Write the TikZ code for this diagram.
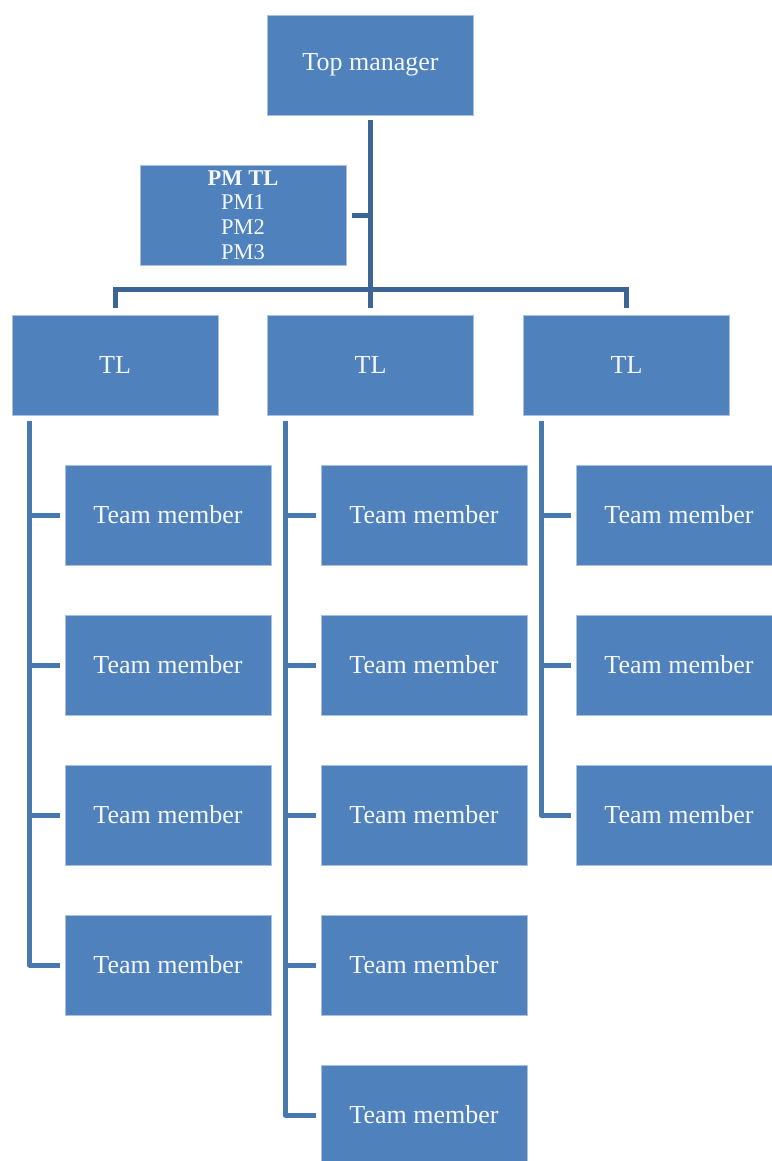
\documentclass[tikz,border=0pt]{standalone}
\usepackage{fontspec}
\setmainfont{Liberation Serif}
\definecolor{boxblue}{HTML}{4F81BD}
\definecolor{boxedge}{HTML}{A9C1DF}
\definecolor{topline}{HTML}{3C6595}
\definecolor{subline}{HTML}{4878B0}
\definecolor{txt}{HTML}{F4F7FB}
\begin{document}
\begin{tikzpicture}[x=1pt,y=1pt,
  orgbox/.style={rectangle, fill=boxblue, draw=boxedge, line width=0.8pt,
    minimum width=206pt, minimum height=100pt, inner sep=0pt, text=txt,
    font=\fontsize{26}{26}\selectfont},
  pmbox/.style={orgbox, align=center, font=\fontsize{22.5}{24.8}\selectfont},
  topconn/.style={draw=topline, line width=5pt},
  subconn/.style={draw=subline, line width=5pt, line join=round}]
\useasboundingbox (0,0) rectangle (771,-1161);
% nodes
\node[orgbox] (top) at (370.5,-65) {Top manager};
\node[pmbox] (pm) at (243,-215) {\textbf{PM TL}\\PM1\\PM2\\PM3};
\node[orgbox] (tl1) at (115,-365) {TL};
\node[orgbox] (tl2) at (370.5,-365) {TL};
\node[orgbox] (tl3) at (626.5,-365) {TL};
\foreach \r/\y in {1/-515,2/-665,3/-815,4/-965}
  \node[orgbox] (ma\r) at (168,\y) {Team member};
\foreach \r/\y in {1/-515,2/-665,3/-815,4/-965,5/-1115}
  \node[orgbox] (mb\r) at (424,\y) {Team member};
\foreach \r/\y in {1/-515,2/-665,3/-815}
  \node[orgbox] (mc\r) at (679,\y) {Team member};
% top connectors
\draw[topconn, shorten <=5pt, shorten >=7pt] (top.south) -- (tl2.north);
\draw[topconn, shorten <=7pt, shorten >=7pt] (tl1.north) -- ++(0,25) -| (tl3.north);
\draw[topconn, shorten <=6pt] (pm.east) -- (pm.east -| top.south);
% team connectors
\coordinate (va) at ([xshift=18pt,yshift=-6pt]tl1.south west);
\coordinate (vb) at ([xshift=18.5pt,yshift=-6pt]tl2.south west);
\coordinate (vc) at ([xshift=18pt,yshift=-6pt]tl3.south west);
\draw[subconn, shorten >=5pt] (va) |- (ma4.west);
\draw[subconn, shorten >=5pt] (vb) |- (mb5.west);
\draw[subconn, shorten >=5pt] (vc) |- (mc3.west);
\foreach \r in {1,2,3} \draw[subconn, shorten <=5pt] (ma\r.west) -- (ma\r.west -| va);
\foreach \r in {1,2,3,4} \draw[subconn, shorten <=5pt] (mb\r.west) -- (mb\r.west -| vb);
\foreach \r in {1,2} \draw[subconn, shorten <=5pt] (mc\r.west) -- (mc\r.west -| vc);
\end{tikzpicture}
\end{document}
